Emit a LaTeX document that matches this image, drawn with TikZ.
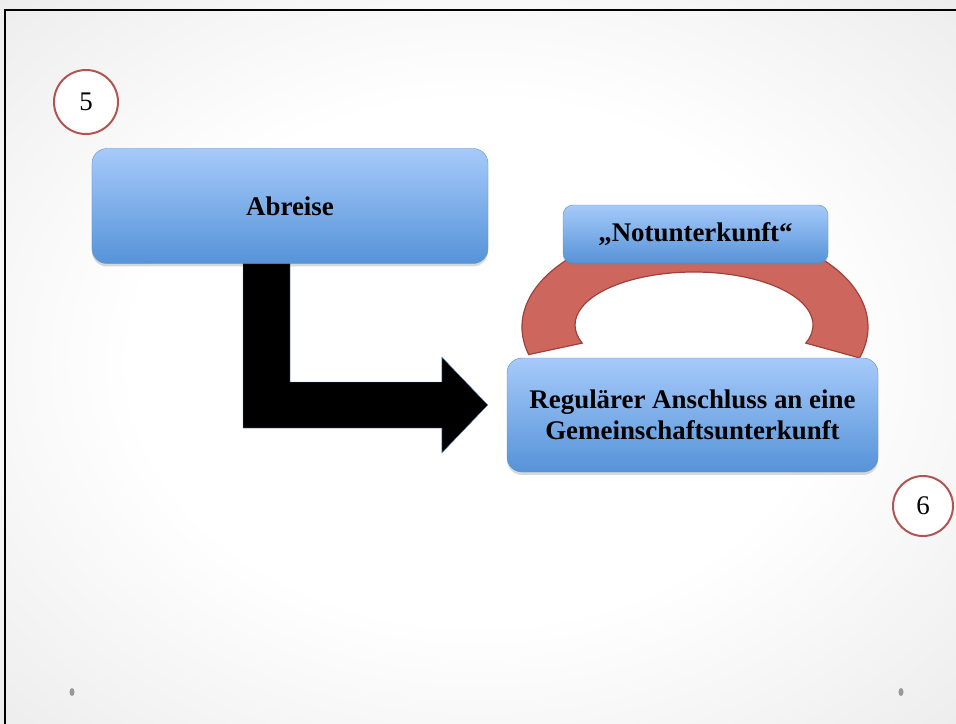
\documentclass[tikz,border=0pt]{standalone}
\usepackage{fontspec}
\setmainfont{Liberation Serif}
\usetikzlibrary{calc,shadows}

\definecolor{kastenoben}{RGB}{166,202,250}
\definecolor{kastenunten}{RGB}{86,147,216}
\definecolor{kastenrand}{RGB}{96,144,204}
\definecolor{bogen}{RGB}{205,103,94}
\definecolor{bogenrand}{RGB}{160,64,58}
\definecolor{kreisrand}{RGB}{178,84,82}
\definecolor{rand}{RGB}{222,222,222}

\pgfdeclareradialshading{folie}{\pgfpoint{0bp}{0bp}}{color(0bp)=(white); color(18bp)=(white); color(50bp)=(rand)}

\begin{document}
\begin{tikzpicture}[x=1bp, y=-1bp,
    kasten/.style={draw=kastenrand, thin, top color=kastenoben, bottom color=kastenunten,
      rounded corners=15bp, align=center, inner sep=0pt,
      font=\fontsize{27}{31}\selectfont\bfseries,
      drop shadow={shadow xshift=0pt, shadow yshift=-3pt, opacity=0.3}},
    nummer/.style={circle, draw=kreisrand, line width=2bp, fill=white, inner sep=0pt,
      font=\fontsize{27}{30}\selectfont},
    pfeil/.style={fill=black, draw=kastenrand, thin}]

    % Hintergrund und Rahmen
    \useasboundingbox (0,0) rectangle (956,724);
    \shade[shading=folie] (0,0) rectangle (956,724);
    \draw[line width=2bp] (5,724) -- (5,10) -- (956,10);

    % Bogen (Notunterkunft)
    \coordinate (B) at (695,327); % Mitte aussen
    \coordinate (b) at (694,325); % Mitte innen
    \draw[fill=bogen, draw=bogenrand, line width=1.2bp]
        ($(B)+(-196:173 and 100)$) arc[start angle=-196, end angle=18, x radius=173, y radius=100]
        -- ($(b)+(20:119 and 53)$) arc[start angle=20, end angle=-200, x radius=119, y radius=53]
        -- cycle;

    % Kaesten
    \node[kasten, minimum width=396bp, minimum height=115bp] (abreise) at (290,206) {Abreise};
    \node[kasten, rounded corners=10bp, minimum width=265bp, minimum height=58bp] (notunterkunft) at (695.5,234) {„Notunterkunft“};
    \node[kasten, minimum width=371bp, minimum height=114bp] (regulaer) at (692.5,415) {Regulärer Anschluss an eine\\Gemeinschaftsunterkunft};

    % Pfeil
    \coordinate (spitze) at ($(regulaer.west)+(-19,-10)$);
    \draw[pfeil] (abreise.south) -- ++(-47,0) |- ($(spitze)+(-46,23)$) -- ++(0,25) -- (spitze)
        -- ++(-46,-48) -- ++(0,25) -| (abreise.south) -- cycle;

    % Nummern
    \node[nummer, minimum size=64bp] (fuenf) at (86,102) {5};
    \node[nummer, minimum size=60bp] (sechs) at (923,506) {6};

    % Punkte unten
    \fill[black!40] (72,692) ellipse (2.5 and 4);
    \fill[black!40] (901,692) ellipse (2.5 and 4);

\end{tikzpicture}
\end{document}
